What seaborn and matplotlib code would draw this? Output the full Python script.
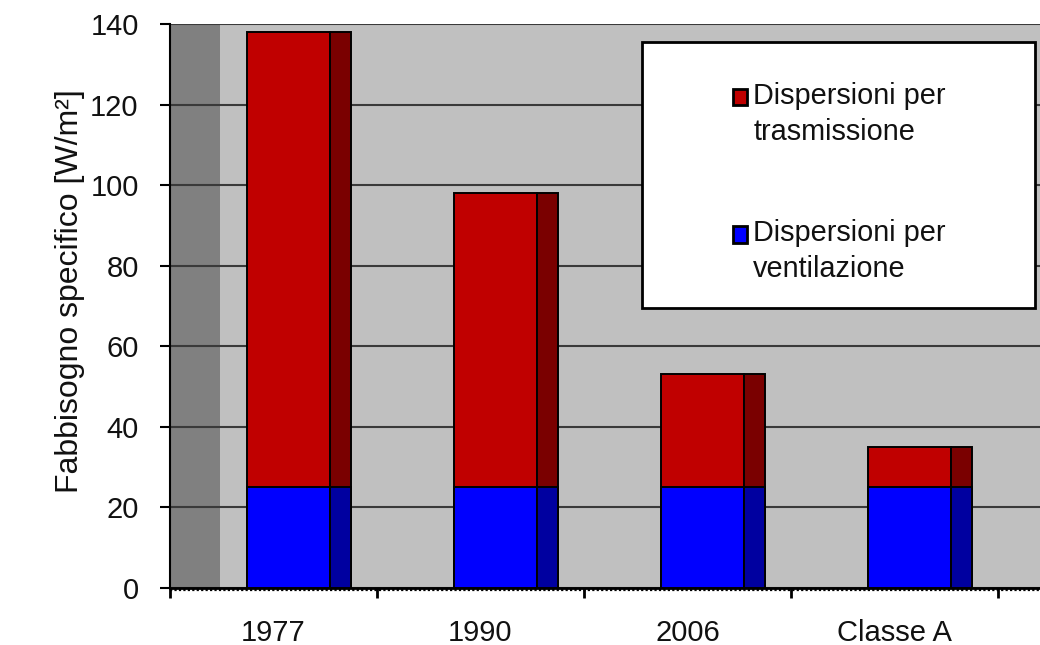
import numpy as np
import pandas as pd
import matplotlib
matplotlib.use("Agg")
import matplotlib.pyplot as plt
from matplotlib.patches import Patch, Rectangle
from matplotlib.legend_handler import HandlerPatch
from matplotlib.ticker import FixedLocator, FixedFormatter
import seaborn as sns

# Data: specific heating demand per building standard [W/m²]
periodi = ["1977", "1990", "2006", "Classe A"]
totale = [138, 98, 53, 35]          # transmission + ventilation losses
ventilazione = [25, 25, 25, 25]     # ventilation losses

df = pd.DataFrame({"periodo": periodi, "totale": totale, "ventilazione": ventilazione})

sns.set_style("ticks")
plt.rcParams["font.family"] = ["Liberation Sans", "DejaVu Sans"]

RED, RED_SIDE = "#c00000", "#7a0000"
BLUE, BLUE_SIDE = "#0000ff", "#0000a0"
INK = "#111111"

fig = plt.figure(figsize=(10.4, 6.45), dpi=100)
ax = fig.add_axes([170 / 1040, 57 / 645, 870 / 1040, 564 / 645])
ax.set_facecolor("#c0c0c0")

# front faces: total column in red, ventilation share overdrawn in blue
sns.barplot(data=df, x="periodo", y="totale", color=RED, saturation=1, width=0.4,
            edgecolor="black", linewidth=1.4, zorder=2, ax=ax)
sns.barplot(data=df, x="periodo", y="ventilazione", color=BLUE, saturation=1, width=0.4,
            edgecolor="black", linewidth=1.4, zorder=3, ax=ax)

# darker side faces give the columns some depth
pos = np.arange(len(periodi))
ax.bar(pos + 0.25, totale, width=0.1, color=RED_SIDE, edgecolor="black", linewidth=1.4, zorder=2)
ax.bar(pos + 0.25, ventilazione, width=0.1, color=BLUE_SIDE, edgecolor="black", linewidth=1.4, zorder=3)

x0, x1 = -0.5725, 3.6304
ax.set_xlim(x0, x1)
ax.set_ylim(0, 140)

# darker side wall on the left
ax.axvspan(x0, -0.3305, color="#808080", zorder=0.2, lw=0)

ax.set_axisbelow(True)
ax.yaxis.grid(True, color="#3a3a3a", linewidth=1.5)
ax.xaxis.grid(False)

ax.set_yticks(np.arange(0, 141, 20))
ax.tick_params(axis="y", direction="out", length=7.5, width=1.5, color="black",
               labelsize=21, pad=15, labelcolor=INK)

# boundary ticks between categories, labels centred on each category
ax.xaxis.set_major_locator(FixedLocator([x0 + k for k in range(5)]))
ax.xaxis.set_major_formatter(FixedFormatter([""] * 5))
ax.xaxis.set_minor_locator(FixedLocator([-0.0725 + k for k in range(4)]))
ax.xaxis.set_minor_formatter(FixedFormatter(periodi))
ax.tick_params(axis="x", which="major", direction="out", length=7, width=2, color="black")
ax.tick_params(axis="x", which="minor", length=0, labelsize=21, pad=22, labelcolor=INK)

for s in ["top", "right"]:
    ax.spines[s].set_visible(False)
ax.spines["left"].set_linewidth(1.5)
ax.spines["left"].set_color("black")
ax.spines["bottom"].set_linewidth(2)
ax.spines["bottom"].set_color("black")
ax.plot([x0, x1], [-0.6, -0.6], color="black", lw=1.6,
        linestyle=(0, (1, 1)), clip_on=False, zorder=4)

ax.set_xlabel("")
ax.set_ylabel("Fabbisogno specifico [W/m²]", fontsize=23, color=INK)
ax.yaxis.set_label_coords(-0.098, 0.527)

# legend panel
box = Rectangle((642 / 1040, 1 - 308 / 645), (1035 - 642) / 1040, (308 - 42) / 645,
                transform=fig.transFigure, facecolor="white", edgecolor="black",
                linewidth=2, zorder=5)
fig.patches.append(box)

LEG_FS = 20.8
LEG_LS = 1.35


def square_on_first_line(legend, orig_handle, xdescent, ydescent, width, height, fontsize):
    # lift the key so it sits beside the first line of a two-line label
    lift = 0.6 * fontsize
    return Rectangle((-xdescent, -ydescent + lift), width, height)


handles = [Patch(facecolor=RED, edgecolor="black", linewidth=2),
           Patch(facecolor=BLUE, edgecolor="black", linewidth=2)]
labels = ["Dispersioni per\ntrasmissione", "Dispersioni per\nventilazione"]
leg = fig.legend(handles, labels, loc="upper left",
                 bbox_to_anchor=(733 / 1040, 1 - 82 / 645),
                 frameon=False, fontsize=LEG_FS, handlelength=0.5, handleheight=0.5,
                 handletextpad=0.2, labelspacing=2.55, borderpad=0, borderaxespad=0,
                 handler_map={Patch: HandlerPatch(patch_func=square_on_first_line)})
leg.set_zorder(6)
for t in leg.get_texts():
    t.set_color(INK)
    t.set_linespacing(LEG_LS)

fig.savefig("out.png", dpi=100)
